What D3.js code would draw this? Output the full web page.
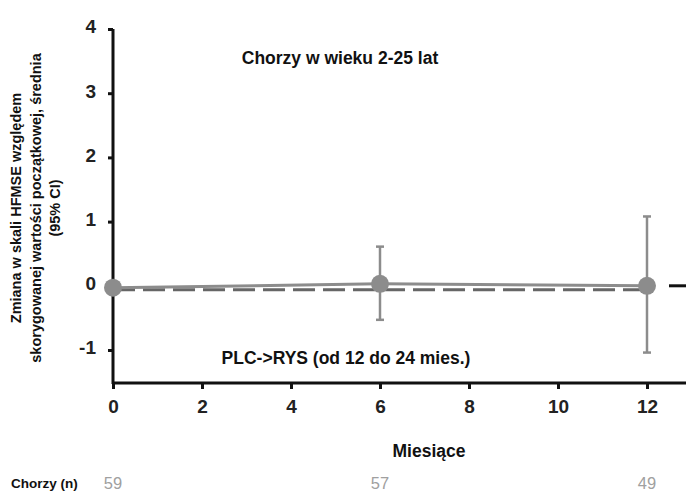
<!DOCTYPE html>
<html>
<head>
<meta charset="utf-8">
<script src="https://cdn.jsdelivr.net/npm/d3@7"></script>
<style>
  body { margin: 0; background: #fff; }
  text { font-family: "Liberation Sans", Arial, sans-serif; }
</style>
</head>
<body>
<div id="container"></div>
<script>
/* DATA */
const months = [0, 6, 12];
const meanChange = [-0.03, 0.03, 0.0];
const ciLow = [null, -0.53, -1.04];
const ciHigh = [null, 0.61, 1.08];
const dashedMonths = [0, 12];
const dashedValues = [-0.06, -0.06];
const patients = [59, 57, 49];
const xTicks = [0, 2, 4, 6, 8, 10, 12];
const yTicks = [-1, 0, 1, 2, 3, 4];

const width = 686, height = 491;

const svg = d3.select("#container")
  .append("svg")
  .attr("width", width)
  .attr("height", height);

// SCALES
const x = d3.scaleLinear().domain([0, 12]).range([113, 647]);
const y = d3.scaleLinear().domain([-1, 4]).range([350, 29]);
const yBottom = 383;

// AXES
const xAxis = svg.append("g")
  .attr("transform", `translate(0,${yBottom})`)
  .call(d3.axisBottom(x).tickValues(xTicks).tickSize(6).tickPadding(8));
xAxis.select(".domain").attr("d", `M${x(0) - 1},0H${width}`);

const yAxis = svg.append("g")
  .attr("transform", `translate(${x(0)},0)`)
  .call(d3.axisLeft(y).tickValues(yTicks).tickSize(5).tickPadding(12)
    .tickFormat(d => String(d)));
yAxis.select(".domain").attr("d", `M0,${y(4)}V${yBottom + 1}`);

svg.selectAll(".domain").attr("stroke", "#111").attr("stroke-width", 3);
svg.selectAll(".tick line").attr("stroke", "#111").attr("stroke-width", 3);
svg.selectAll(".tick text")
  .attr("fill", "#222")
  .style("font-size", "19px")
  .style("font-weight", "bold");
xAxis.selectAll(".tick text").attr("dy", "0.85em");
yAxis.selectAll(".tick text").attr("dy", "0.2em");

// DASHED LINE
svg.append("path")
  .datum(dashedMonths.map((m, i) => [m, dashedValues[i]]))
  .attr("fill", "none")
  .attr("stroke", "#666")
  .attr("stroke-width", 3)
  .attr("stroke-dasharray", "22,8")
  .attr("d", d3.line().x(d => x(d[0])).y(d => y(d[1])));

// SOLID LINE
const pts = months.map((m, i) => ({ m, v: meanChange[i], lo: ciLow[i], hi: ciHigh[i] }));
svg.append("path")
  .datum(pts)
  .attr("fill", "none")
  .attr("stroke", "#8c8c8c")
  .attr("stroke-width", 3)
  .attr("d", d3.line().x(d => x(d.m)).y(d => y(d.v)));

// ERROR BARS
const bars = pts.filter(d => d.lo !== null);
svg.selectAll("line.ci")
  .data(bars)
  .join("line")
  .attr("class", "ci")
  .attr("x1", d => x(d.m)).attr("x2", d => x(d.m))
  .attr("y1", d => y(d.lo)).attr("y2", d => y(d.hi))
  .attr("stroke", "#8c8c8c").attr("stroke-width", 2.5);
["lo", "hi"].forEach(k => {
  svg.selectAll("line.cap-" + k)
    .data(bars)
    .join("line")
    .attr("class", "cap-" + k)
    .attr("x1", d => x(d.m) - 4).attr("x2", d => x(d.m) + 4)
    .attr("y1", d => y(d[k])).attr("y2", d => y(d[k]))
    .attr("stroke", "#8c8c8c").attr("stroke-width", 2.5);
});

// MARKERS
svg.selectAll("circle")
  .data(pts)
  .join("circle")
  .attr("cx", d => x(d.m))
  .attr("cy", d => y(d.v))
  .attr("r", 9)
  .attr("fill", "#8c8c8c");

// legend stub at right edge
svg.append("line")
  .attr("x1", 669).attr("x2", width)
  .attr("y1", y(0)).attr("y2", y(0))
  .attr("stroke", "#111").attr("stroke-width", 3);

// TEXTS
svg.append("text")
  .attr("x", 340).attr("y", 64)
  .attr("text-anchor", "middle")
  .style("font-size", "17.5px").style("font-weight", "bold")
  .attr("fill", "#111")
  .text("Chorzy w wieku 2-25 lat");

svg.append("text")
  .attr("x", 346).attr("y", 364)
  .attr("text-anchor", "middle")
  .style("font-size", "17.5px").style("font-weight", "bold")
  .attr("fill", "#111")
  .text("PLC->RYS (od 12 do 24 mies.)");

svg.append("text")
  .attr("x", 429).attr("y", 457)
  .attr("text-anchor", "middle")
  .style("font-size", "17.5px").style("font-weight", "bold")
  .attr("fill", "#111")
  .text("Miesiące");

const yLabel = ["Zmiana w skali HFMSE względem",
  "skorygowanej wartości początkowej, średnia",
  "(95% CI)"];
svg.append("g")
  .attr("transform", "translate(21,208) rotate(-90)")
  .selectAll("text")
  .data(yLabel)
  .join("text")
  .attr("x", 0)
  .attr("y", (d, i) => i * 19.5)
  .attr("text-anchor", "middle")
  .style("font-size", "14.5px").style("font-weight", "bold")
  .attr("fill", "#111")
  .text(d => d);

svg.append("text")
  .attr("x", 11).attr("y", 488)
  .style("font-size", "13.5px").style("font-weight", "bold")
  .attr("fill", "#111")
  .text("Chorzy (n)");

svg.selectAll("text.n")
  .data(months)
  .join("text")
  .attr("class", "n")
  .attr("x", d => x(d))
  .attr("y", 489)
  .attr("text-anchor", "middle")
  .style("font-size", "16.5px")
  .attr("fill", "#a0a0a0")
  .text((d, i) => patients[i]);
</script>
</body>
</html>
